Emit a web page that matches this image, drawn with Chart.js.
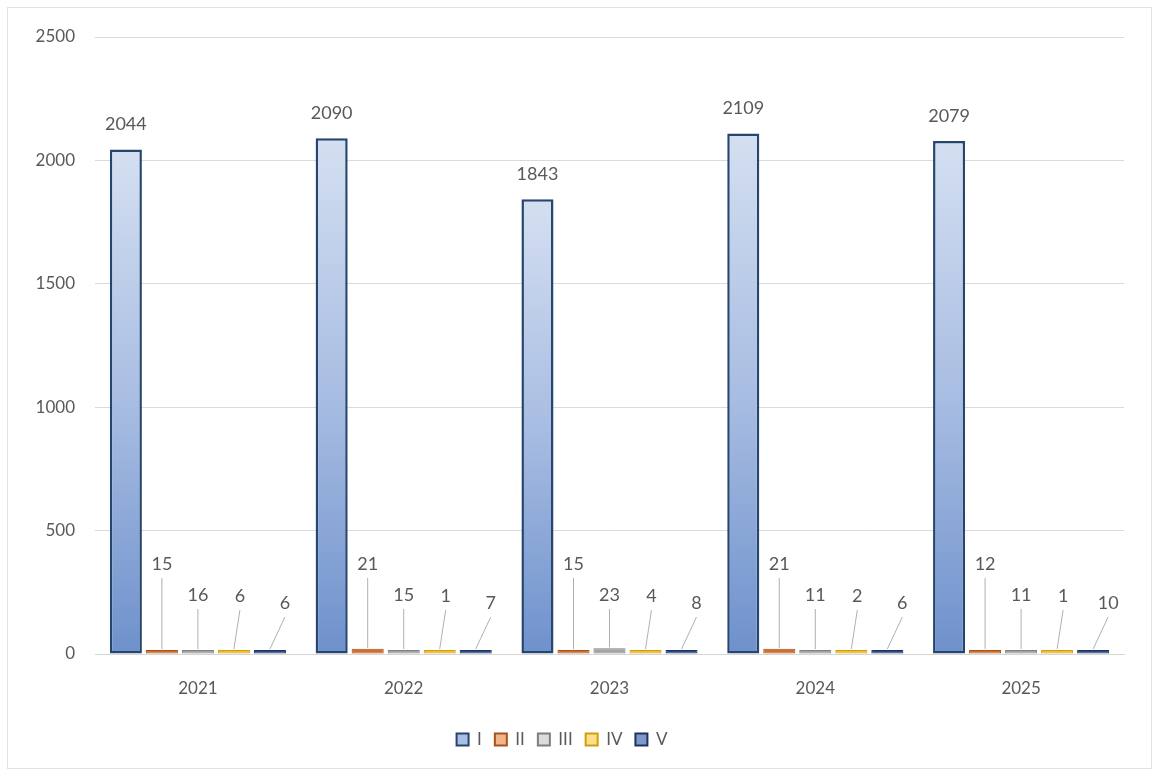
<!DOCTYPE html>
<html>
<head>
<meta charset="utf-8">
<script src="https://cdn.jsdelivr.net/npm/chart.js@4.4.1/dist/chart.umd.min.js"></script>
<style>
  html, body { margin: 0; padding: 0; background: #ffffff; }
  #wrap { position: relative; width: 1156px; height: 772px; }
  #frame { position: absolute; left: 7px; top: 7px; width: 1145px; height: 762px; border: 1px solid #e2e2e2; box-sizing: border-box; pointer-events: none; }
  canvas { display: block; }
</style>
</head>
<body>
<div id="wrap">
  <canvas id="c" width="1156" height="772"></canvas>
  <div id="frame"></div>
</div>
<script>
const years = ['2021', '2022', '2023', '2024', '2025'];
const seriesNames = ['I', 'II', 'III', 'IV', 'V'];
const seriesI   = [2044, 2090, 1843, 2109, 2079];
const seriesII  = [15, 21, 15, 21, 12];
const seriesIII = [16, 15, 23, 11, 11];
const seriesIV  = [6, 1, 4, 2, 1];
const seriesV   = [6, 7, 8, 6, 10];
const yTicks = [0, 500, 1000, 1500, 2000, 2500];

const FONT = 'Lato, "Open Sans", "DejaVu Sans", sans-serif';
const TEXT = '#595959';

// style per series: [light, main, border]
const styles = [
  ['#d4dff1', '#6e91cc', '#27466f'],
  ['#f2b58a', '#d06f2c', '#a8521a'],
  ['#dcdcdc', '#a3a3a3', '#7f7f7f'],
  ['#ffe08a', '#efbb2a', '#d39e0c'],
  ['#7f98c8', '#2b4a84', '#1c3464']
];
// label placement (px above baseline, horizontal nudge) per series for small bars
const labelLift = [null, 90, 59, 58, 51];
const labelShift = [0, 0, 0, 6, 15];

function makeFill(si) {
  return function (ctx) {
    if (si !== 0) return styles[si][1];
    const chart = ctx.chart;
    const area = chart.chartArea;
    if (!area || ctx.type !== 'data') return styles[si][1];
    const y = chart.scales.y;
    const top = y.getPixelForValue(ctx.raw);
    const bot = y.getPixelForValue(0);
    if (!isFinite(top) || bot - top < 1) return styles[si][1];
    const g = chart.ctx.createLinearGradient(0, top, 0, bot);
    g.addColorStop(0, styles[si][0]);
    g.addColorStop(0.5, '#a8bde2');
    g.addColorStop(1, styles[si][1]);
    return g;
  };
}

const allSeries = [seriesI, seriesII, seriesIII, seriesIV, seriesV];
const datasets = allSeries.map((d, i) => ({
  label: seriesNames[i],
  data: d,
  backgroundColor: makeFill(i),
  borderColor: styles[i][2],
  borderWidth: i === 0 ? 2.5 : 1,
  borderSkipped: false,
  minBarLength: 4,
  categoryPercentage: 0.875,
  barPercentage: 0.89
}));

const labelPlugin = {
  id: 'valueLabels',
  afterDatasetsDraw(chart) {
    const ctx = chart.ctx;
    const y0 = chart.scales.y.getPixelForValue(0);
    ctx.save();
    ctx.font = '18px ' + FONT;
    ctx.fillStyle = TEXT;
    ctx.textAlign = 'center';
    ctx.textBaseline = 'middle';
    chart.data.datasets.forEach((ds, si) => {
      const meta = chart.getDatasetMeta(si);
      meta.data.forEach((bar, i) => {
        const val = ds.data[i];
        if (si === 0) {
          ctx.fillText(String(val), bar.x, bar.y - 25);
        } else {
          const lx = bar.x + labelShift[si];
          const ly = y0 - labelLift[si];
          ctx.strokeStyle = '#b0b0b0';
          ctx.lineWidth = 1;
          ctx.beginPath();
          ctx.moveTo(bar.x, bar.y - 1);
          ctx.lineTo(lx, ly + 14);
          ctx.stroke();
          ctx.fillText(String(val), lx, ly);
        }
      });
    });
    ctx.restore();
  }
};

new Chart(document.getElementById('c'), {
  type: 'bar',
  data: { labels: years, datasets },
  options: {
    responsive: false,
    animation: false,
    layout: { padding: { top: 37, right: 32, bottom: 14, left: 0 } },
    scales: {
      y: {
        min: 0, max: 2500,
        afterBuildTicks(scale) { scale.ticks = yTicks.map(v => ({ value: v })); },
        afterFit(scale) { scale.width = 95; },
        ticks: { color: TEXT, font: { size: 17, family: FONT }, padding: 20, callback: v => String(v) },
        grid: { color: '#dadada', drawTicks: false },
        border: { display: false }
      },
      x: {
        afterFit(scale) { scale.height = 64; },
        ticks: { color: TEXT, font: { size: 17, family: FONT }, padding: 24 },
        grid: { display: false, drawTicks: false },
        border: { display: true, color: '#d6d6d6' }
      }
    },
    plugins: {
      legend: {
        position: 'bottom',
        labels: {
          color: TEXT,
          font: { size: 17, family: FONT },
          boxWidth: 12,
          boxHeight: 12,
          padding: 13,
          generateLabels(chart) {
            return seriesNames.map((n, i) => ({
              text: n,
              fillStyle: i === 0 ? '#a9bfe3' : styles[i][0],
              strokeStyle: styles[i][2],
              lineWidth: 2,
              datasetIndex: i,
              hidden: false,
              fontColor: TEXT
            }));
          }
        }
      },
      tooltip: { enabled: false }
    }
  },
  plugins: [labelPlugin]
});
</script>
</body>
</html>
